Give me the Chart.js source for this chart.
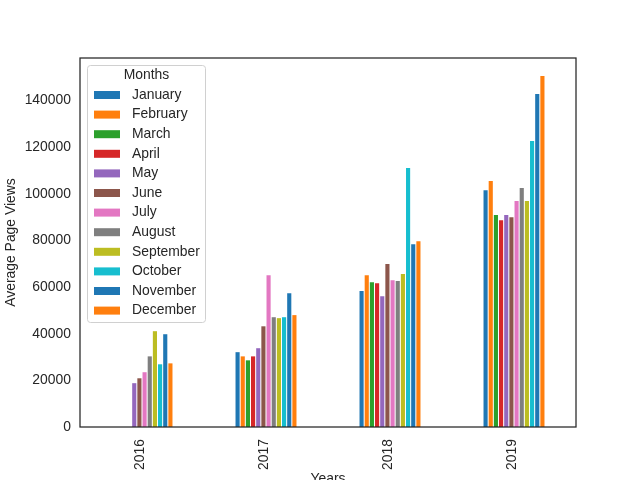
<!DOCTYPE html>
<html>
<head>
<meta charset="utf-8">
<script src="https://cdn.jsdelivr.net/npm/chart.js@4"></script>
<style>
  html, body { margin: 0; padding: 0; background: #fff; overflow: hidden; }
  #wrap { width: 640px; height: 488px; }
</style>
</head>
<body>
<div id="wrap"><canvas id="mainChart" width="640" height="488"></canvas></div>
<script>
// 1. Data
const years = ['2016', '2017', '2018', '2019'];
const months = ['January', 'February', 'March', 'April', 'May', 'June',
  'July', 'August', 'September', 'October', 'November', 'December'];

// one array per month, one value per year (null = no data)
const january   = [null, 32100, 58300, 101600];
const february  = [null, 30300, 65100, 105500];
const march     = [null, 28600, 62100, 90900];
const april     = [null, 30300, 61700, 88700];
const may       = [18800, 33800, 56100, 90900];
const june      = [20900, 43200, 69900, 90000];
const july      = [23500, 65100, 63000, 96900];
const august    = [30300, 47100, 62600, 102500];
const september = [41100, 46700, 65600, 96900];
const october   = [26900, 47100, 111100, 122700];
const november  = [39800, 57400, 78400, 142900];
const december  = [27300, 48000, 79700, 150600];

const yTicks = [0, 20000, 40000, 60000, 80000, 100000, 120000, 140000];
const yMax = 158300;

const monthValues = [january, february, march, april, may, june,
  july, august, september, october, november, december];

// tab10 colours, wrapping after ten
const colors = ['#1f77b4', '#ff7f0e', '#2ca02c', '#d62728', '#9467bd',
  '#8c564b', '#e377c2', '#7f7f7f', '#bcbd22', '#17becf', '#1f77b4', '#ff7f0e'];

const textColor = '#262626';
const fontFamily = "'Liberation Sans', Arial, sans-serif";
const fontSize = 13.9;

// 2. Frame round the plot area (all four spines)
const framePlugin = {
  id: 'frame',
  afterDatasetsDraw(chart) {
    const a = chart.chartArea;
    const c = chart.ctx;
    c.save();
    c.strokeStyle = textColor;
    c.lineWidth = 1.25;
    c.strokeRect(a.left, a.top, a.right - a.left, a.bottom - a.top);
    c.restore();
  }
};

// 3. Legend box inside the plot, like matplotlib's
const boxLegendPlugin = {
  id: 'boxLegend',
  afterDraw(chart) {
    const c = chart.ctx;
    const x0 = 87.5, y0 = 65.5, w = 118, h = 257;
    c.save();
    c.fillStyle = 'rgba(255,255,255,0.8)';
    c.strokeStyle = '#d0d0d0';
    c.lineWidth = 1;
    c.beginPath();
    c.roundRect(x0, y0, w, h, 3);
    c.fill();
    c.stroke();

    c.font = fontSize + 'px ' + fontFamily;
    c.fillStyle = textColor;
    c.textBaseline = 'middle';
    c.textAlign = 'center';
    c.fillText('Months', x0 + w / 2, 75);

    c.textAlign = 'left';
    chart.data.datasets.forEach((ds, i) => {
      const cy = 95 + i * 19.6;
      c.fillStyle = ds.backgroundColor;
      c.fillRect(94, cy - 4, 26, 8);
      c.fillStyle = textColor;
      c.fillText(ds.label, 132, cy);
    });
    c.restore();
  }
};

// 4. Build the chart
const ctx = document.getElementById('mainChart').getContext('2d');

new Chart(ctx, {
  type: 'bar',
  data: {
    labels: years,
    datasets: months.map((m, i) => ({
      label: m,
      data: monthValues[i],
      backgroundColor: colors[i],
      borderWidth: 0,
      categoryPercentage: 0.5,
      barPercentage: 0.8
    }))
  },
  options: {
    responsive: false,
    animation: false,
    devicePixelRatio: 1,
    layout: { padding: { left: 0, right: 64, top: 58, bottom: 0 } },
    plugins: {
      legend: { display: false },
      tooltip: { enabled: false }
    },
    scales: {
      x: {
        grid: { display: false, drawTicks: false },
        border: { display: false },
        ticks: {
          color: textColor,
          font: { family: fontFamily, size: fontSize },
          minRotation: 90,
          maxRotation: 90,
          padding: 12,
          labelOffset: -2
        },
        title: {
          display: true,
          text: 'Years',
          color: textColor,
          font: { family: fontFamily, size: fontSize },
          padding: { top: 0, bottom: 0 }
        },
        afterFit: (scale) => { scale.height = 61; }
      },
      y: {
        min: 0,
        max: yMax,
        grid: { display: false, drawTicks: false },
        border: { display: false },
        afterBuildTicks: (scale) => {
          scale.ticks = yTicks.map(v => ({ value: v }));
        },
        ticks: {
          color: textColor,
          font: { family: fontFamily, size: fontSize },
          padding: 9,
          callback: (value) => String(value)
        },
        title: {
          display: true,
          text: 'Average Page Views',
          color: textColor,
          font: { family: fontFamily, size: fontSize },
          padding: { top: 3, bottom: 0 }
        },
        afterFit: (scale) => { scale.width = 80; }
      }
    }
  },
  plugins: [framePlugin, boxLegendPlugin]
});
</script>
</body>
</html>
